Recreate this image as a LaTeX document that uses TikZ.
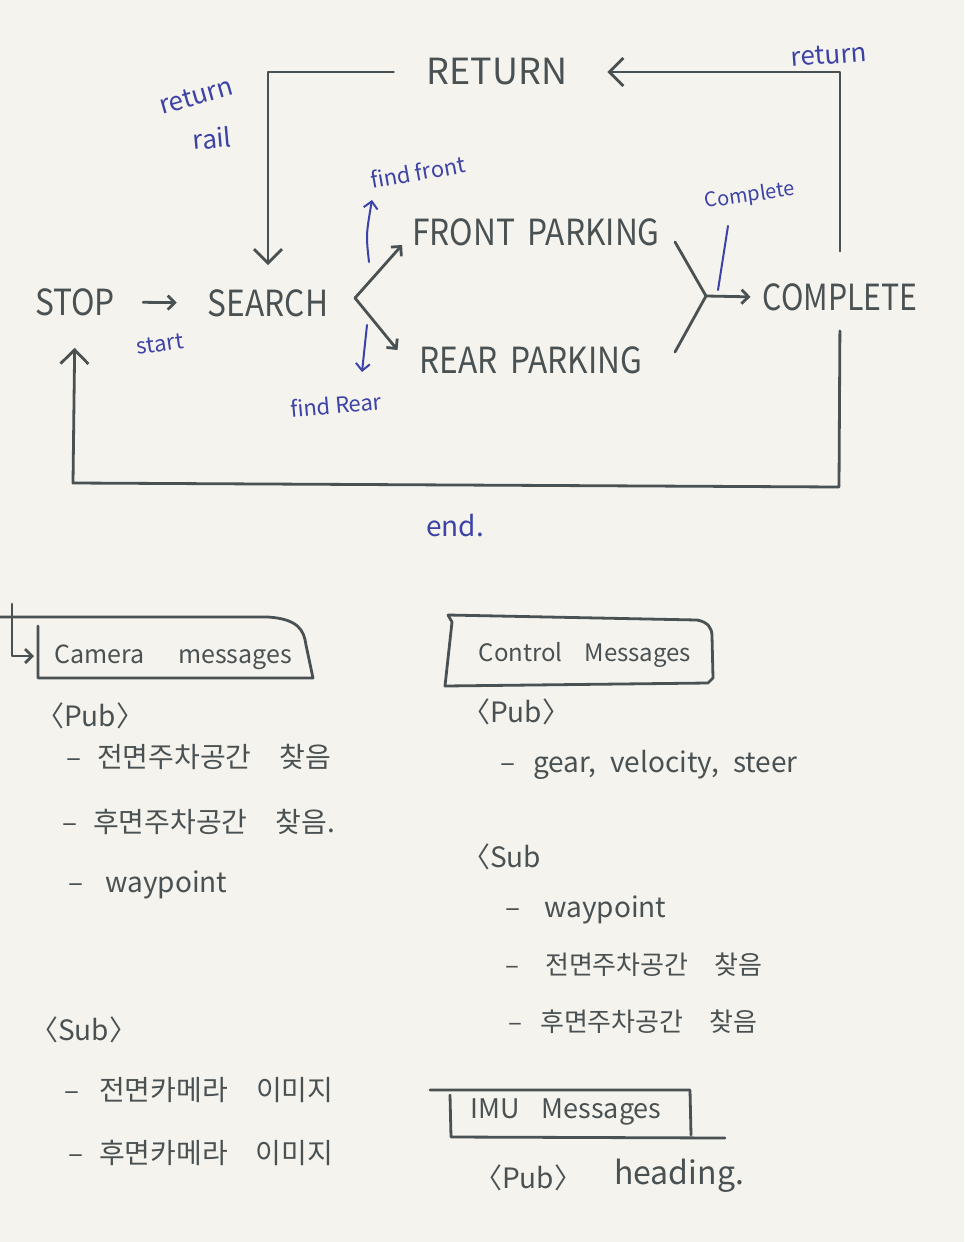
\documentclass[tikz,border=0pt]{standalone}
\usepackage{fontspec}
\setmainfont{Noto Sans CJK KR}
\usetikzlibrary{arrows.meta,positioning,calc}
\definecolor{ink}{HTML}{4A5152}
\definecolor{pen}{HTML}{3D43A6}
\definecolor{paper}{HTML}{F4F3EE}

% narrow handwriting
\newcommand{\narrowtext}[1]{\scalebox{0.88}[1]{#1}}

\tikzset{
  state/.style={ink, font=\fontsize{36}{40}\selectfont, inner sep=4pt},
  note/.style={pen, font=\fontsize{22}{24}\selectfont},
  boxtitle/.style={ink, font=\fontsize{25}{30}\selectfont},
  item/.style={ink, font=\fontsize{28}{32}\selectfont, anchor=west, inner sep=0pt},
  flow/.style={ink, line width=2.8pt, line cap=round, line join=round},
  bigtip/.style={-{Straight Barb[length=14pt,width=28pt]}},
  smalltip/.style={-{Straight Barb[length=7pt,width=14pt]}},
  penline/.style={pen, line width=2pt, line cap=round},
}

\begin{document}
\begin{tikzpicture}[x=1pt,y=-1pt]
    % paper
    \fill[paper] (0,0) rectangle (964,1242);
    \useasboundingbox (0,0) rectangle (964,1242);

    % states
    \node[state] (ret)    at (497, 72)  {RETURN};
    \node[state] (stop)   at (75, 302)  {\narrowtext{STOP}};
    \node[state] (search) at (268, 303) {\narrowtext{SEARCH}};
    \node[state] (front)  at (536, 232) {\narrowtext{FRONT\hspace{14pt}PARKING}};
    \node[state] (rear)   at (531, 360) {\narrowtext{REAR\hspace{14pt}PARKING}};
    \node[state] (comp)   at (840, 297) {\scalebox{0.84}[1]{COMPLETE}};

    % corners of the loops
    \coordinate (fork)   at (355, 298);
    \coordinate (join)   at (706, 296);
    \coordinate (frontIn) at (675, 242);
    \coordinate (rearIn)  at (675, 352);
    \coordinate (loopR)  at (839, 487);
    \coordinate (loopL)  at (73, 483);

    % stop -> search
    \draw[flow, smalltip, shorten <=24pt, shorten >=27pt] (stop.east) -- (search.west);
    \node[note, rotate=8] (lstart) at (160, 344) {start};

    % return -> search
    \draw[flow, bigtip, shorten <=29pt, shorten >=20pt] (ret.west) -- (ret.west -| search) -- (search.north);
    \node[note, font=\fontsize{26}{30}\selectfont, rotate=16, inner sep=1pt] (lreturnA) at (196, 96) {return};
    \node[note, font=\fontsize{26}{30}\selectfont, rotate=5, inner sep=1pt] (lrail) at (212, 138) {rail};

    % search -> front / rear
    \draw[flow, smalltip] (fork) -- ([shift={(-6,13)}]front.west);
    \draw[flow, smalltip] (fork) -- ([shift={(-18,-10)}]rear.west);
    \node[note, rotate=10] (lfront) at (418, 172) {find front};
    \coordinate (ffTail) at (369, 262);
    \coordinate (ffHead) at (372, 200);
    \draw[penline, smalltip] (ffTail) .. controls (366,235) .. (ffHead);
    \node[note, rotate=5] (lrear) at (336, 405) {find Rear};
    \coordinate (frTail) at (367, 325);
    \coordinate (frHead) at (362, 372);
    \draw[penline, smalltip] (frTail) -- (frHead);

    % front / rear -> complete
    \draw[flow] (frontIn) -- (join) -- (rearIn);
    \draw[flow, smalltip, shorten >=8pt] (join) -- (comp.west);
    \node[note, font=\fontsize{20}{24}\selectfont, rotate=8] (lcomp) at (750, 196) {Complete};
    \coordinate (cTickA) at (728, 226);
    \coordinate (cTickB) at (718, 290);
    \draw[penline] (cTickA) -- (cTickB);

    % complete -> return
    \draw[flow, bigtip, shorten <=28pt, shorten >=36pt] (comp.north) -- (comp.north |- ret) -- (ret.east);
    \node[note, font=\fontsize{26}{30}\selectfont, rotate=4] (lreturn) at (829, 55) {return};

    % complete -> stop
    \draw[flow, bigtip, shorten <=16pt, shorten >=28pt] (comp.south) -- (loopR) -- (loopL) -- (stop.south);
    \node[note, font=\fontsize{28}{32}\selectfont] (lend) at (455, 526) {end.};

    % Camera messages
    \node[boxtitle] (cam) at (173, 657) {Camera\hspace{34pt}messages};
    \draw[flow] (0,617) -- (268,617) .. controls (298,619) and (304,630) .. (306,645) -- (313,678) -- (38,678) -- (38,626);
    \coordinate (camHook) at (12, 604);
    \coordinate (camHookEnd) at (34, 656);
    \draw[flow, smalltip] (camHook) |- (camHookEnd);

    \node[item] (camPub)  at (36, 716)  {〈Pub〉};
    \node[item] (camP1)   at (66, 757)  {–\hspace{16pt}전면주차공간\quad 찾음};
    \node[item] (camP2)   at (62, 822)  {–\hspace{16pt}후면주차공간\quad 찾음.};
    \node[item] (camP3)   at (68, 885)  {–\hspace{22pt}waypoint};
    \node[item] (camSub)  at (30, 1030) {〈Sub〉};
    \node[item] (camS1)   at (64, 1090) {–\hspace{20pt}전면카메라\quad 이미지};
    \node[item] (camS2)   at (68, 1153) {–\hspace{16pt}후면카메라\quad 이미지};

    % Control messages
    \node[boxtitle, font=\fontsize{24}{28}\selectfont] (ctl) at (585, 655) {Control\hspace{22pt}Messages};
    \draw[flow] (452,622) -- (448,615) -- (697,620) .. controls (708,622) and (712,628) .. (712,636) -- (713,678) -- (708,683) -- (445,686) -- (452,622);

    \node[item] (ctlPub) at (462, 712)  {〈Pub〉};
    \node[item] (ctlP1)  at (500, 765)  {–\hspace{18pt}gear,\hspace{14pt}velocity,\hspace{14pt}steer};
    \node[item] (ctlSub) at (462, 857)  {〈Sub};
    \node[item] (ctlS1)  at (505, 910)  {–\hspace{24pt}waypoint};
    \node[item, font=\fontsize{26}{30}\selectfont] (ctlS2)  at (505, 965)  {–\hspace{26pt}전면주차공간\quad 찾음};
    \node[item, font=\fontsize{26}{30}\selectfont] (ctlS3)  at (508, 1022) {–\hspace{18pt}후면주차공간\quad 찾음};

    % IMU messages
    \node[boxtitle, font=\fontsize{27}{32}\selectfont] (imu) at (566, 1112) {IMU\hspace{22pt}Messages};
    \draw[flow] (430,1090) -- (690,1090) -- (691,1135);
    \draw[flow] (450,1095) -- (451,1137) -- (725,1138);
    \node[item] (imuPub) at (474, 1178) {〈Pub〉};
    \node[item, font=\fontsize{32}{36}\selectfont] (imuHead) at (614, 1176) {heading.};
\end{tikzpicture}
\end{document}
